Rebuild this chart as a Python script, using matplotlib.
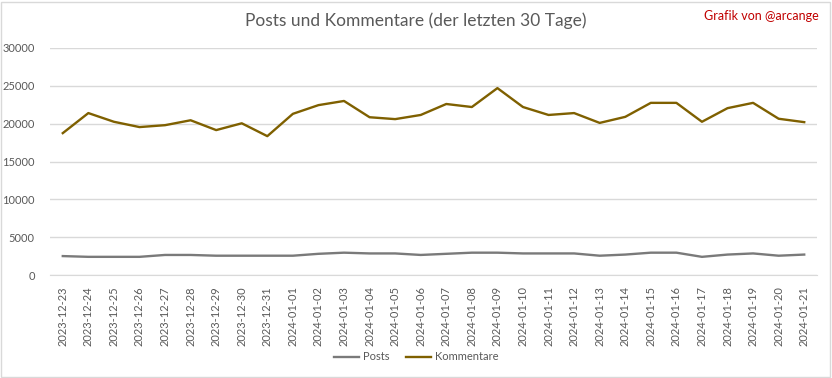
import matplotlib
matplotlib.use("Agg")
import matplotlib.pyplot as plt
from matplotlib.patches import Rectangle

dates = ["2023-12-23", "2023-12-24", "2023-12-25", "2023-12-26", "2023-12-27", "2023-12-28",
         "2023-12-29", "2023-12-30", "2023-12-31", "2024-01-01", "2024-01-02", "2024-01-03",
         "2024-01-04", "2024-01-05", "2024-01-06", "2024-01-07", "2024-01-08", "2024-01-09",
         "2024-01-10", "2024-01-11", "2024-01-12", "2024-01-13", "2024-01-14", "2024-01-15",
         "2024-01-16", "2024-01-17", "2024-01-18", "2024-01-19", "2024-01-20", "2024-01-21"]

posts = [2500, 2400, 2400, 2400, 2650, 2650, 2550, 2550, 2550, 2550, 2800, 2950, 2850, 2850, 2650,
         2800, 2950, 2950, 2850, 2850, 2850, 2550, 2700, 2950, 2950, 2400, 2700, 2850, 2550, 2700]

kommentare = [18750, 21400, 20250, 19550, 19800, 20450, 19150, 20050, 18350, 21300, 22450, 23000,
              20850, 20600, 21150, 22600, 22200, 24700, 22200, 21150, 21400, 20100, 20900, 22750,
              22750, 20250, 22050, 22750, 20650, 20200]

y_ticks = [0, 5000, 10000, 15000, 20000, 25000, 30000]

FONT = ["Lato", "DejaVu Sans"]
plt.rcParams["font.family"] = FONT
TXT = "#595959"

fig = plt.figure(figsize=(8.32, 3.78), dpi=100)
W, H = 832, 378
ax = fig.add_axes([50 / W, 1 - 275 / H, (817 - 50) / W, (275 - 48) / H])

x = list(range(len(dates)))
ax.plot(x, posts, color="#7a7a7a", lw=1.7, label="Posts", solid_joinstyle="round")
ax.plot(x, kommentare, color="#7f6000", lw=1.7, label="Kommentare", solid_joinstyle="round")

ax.set_xlim(-0.5, len(dates) - 0.5)
ax.set_ylim(0, 30000)
ax.set_yticks(y_ticks)
ax.set_yticklabels([str(v) for v in y_ticks], color=TXT, fontsize=8)
ax.set_xticks(x)
ax.set_xticklabels(dates, rotation=90, color=TXT, fontsize=8)
ax.tick_params(axis="both", length=0)
ax.tick_params(axis="y", pad=11)
ax.tick_params(axis="x", pad=8)
ax.grid(axis="y", color="#d9d9d9", lw=1)
ax.set_axisbelow(True)
for s in ["top", "right", "left"]:
    ax.spines[s].set_visible(False)
ax.spines["bottom"].set_color("#d9d9d9")

fig.text(0.5, 1 - 21 / H, "Posts und Kommentare (der letzten 30 Tage)", ha="center", va="center",
         fontsize=12.5, color=TXT)
fig.text(819 / W, 1 - 16 / H, "Grafik von @arcange", ha="right", va="center",
         fontsize=9, color="#c00000")

fig.legend(loc="center", bbox_to_anchor=(0.5, 1 - 357 / H), ncol=2, frameon=False,
           fontsize=8, labelcolor=TXT, handlelength=2.3, columnspacing=1.5, handletextpad=0.3)

fig.patches.append(Rectangle((1 / W, 1 / H), 1 - 3 / W, 1 - 3 / H, transform=fig.transFigure,
                             fill=False, edgecolor="#d9d9d9", lw=1))

fig.savefig("out.png", dpi=100)
